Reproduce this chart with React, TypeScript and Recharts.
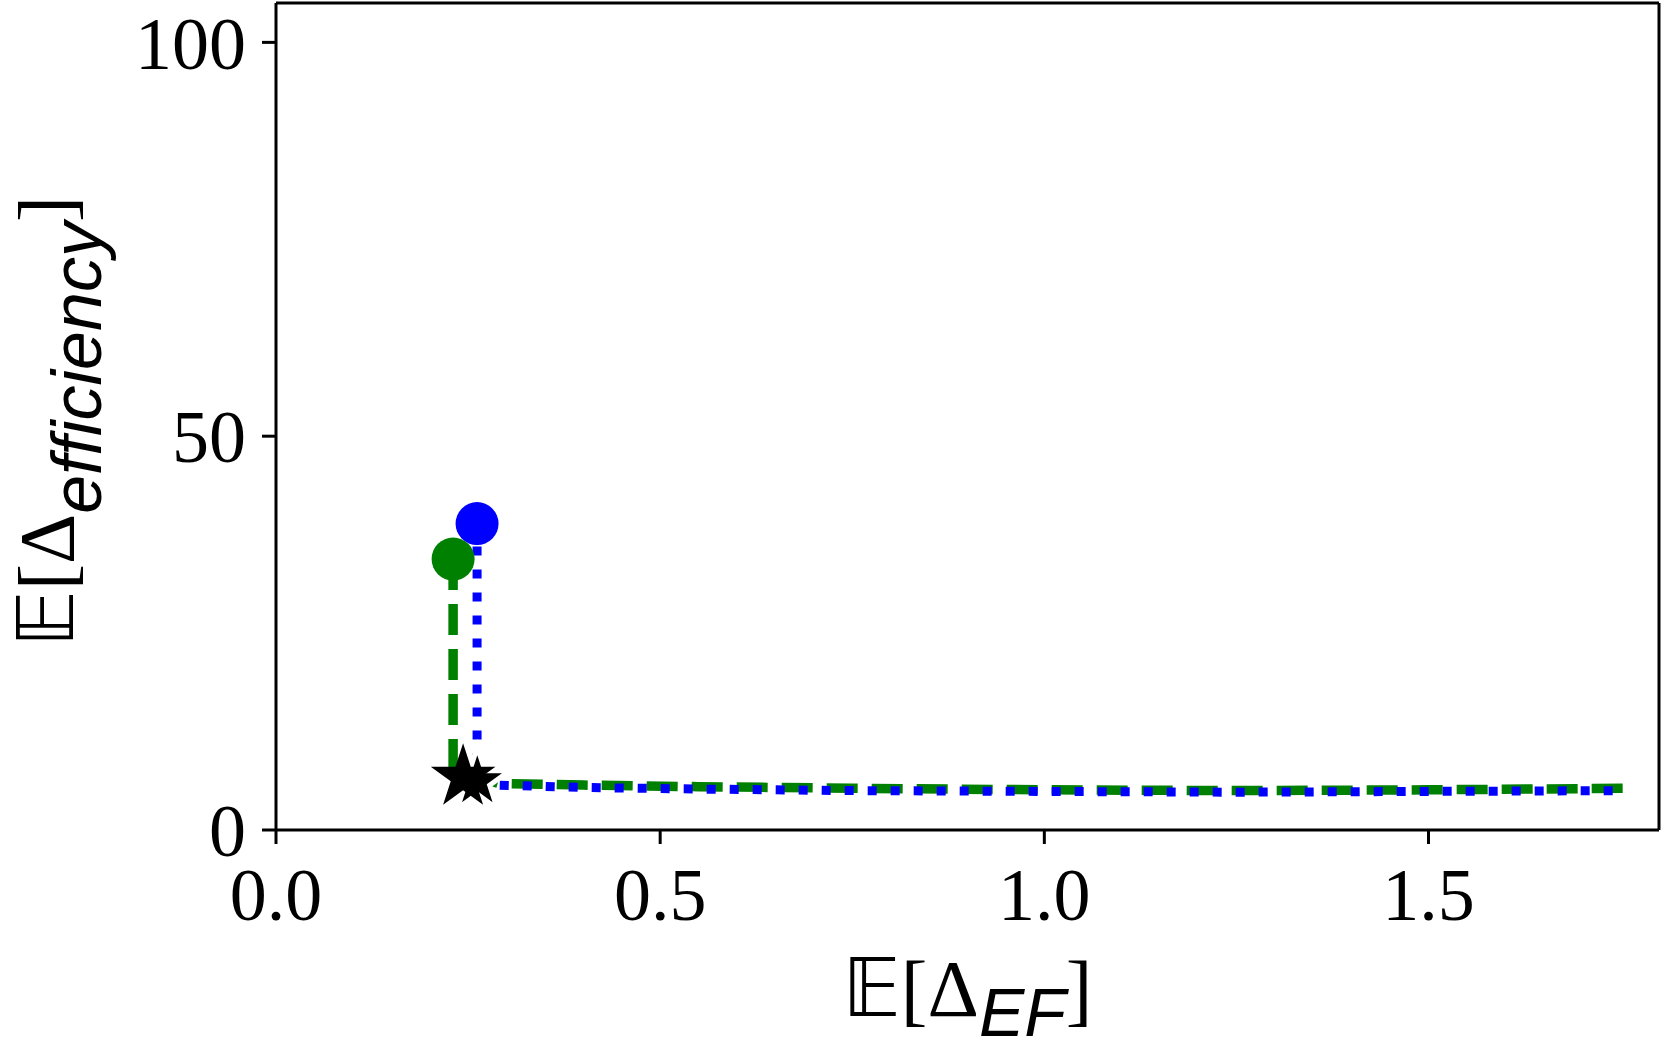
import React from 'react';
import { ComposedChart, Line, Scatter, XAxis, YAxis, ReferenceLine } from 'recharts';

// front traced for the green (dashed) and blue (dotted) runs
const greenX = [0.2305, 0.2305, 0.2305, 0.266, 0.29, 0.4, 0.55, 0.75, 1.0, 1.25, 1.5, 1.77];
const greenY = [34.4, 20, 7.9, 6.6, 5.9, 5.7, 5.5, 5.3, 5.1, 5.0, 5.1, 5.3];
const blueX = [0.2617, 0.2617, 0.2617, 0.268, 0.29, 0.4, 0.55, 0.75, 1.0, 1.25, 1.5, 1.753];
const blueY = [38.9, 20, 8.2, 6.3, 5.7, 5.4, 5.2, 5.0, 4.9, 4.8, 4.9, 5.0];

const starFront = [{ x: 0.2435, y: 6.7 }];
const starBack = [{ x: 0.262, y: 6.2 }];

const xTicks = [0, 0.5, 1.0, 1.5];
const yTicks = [0, 50, 100];
const xMax = 1.8;
const yMax = 105;

const zip = (xs: number[], ys: number[]) => xs.map((x, i) => ({ x, y: ys[i] }));
const greenData = zip(greenX, greenY);
const blueData = zip(blueX, blueY);

const SERIF = '"Liberation Serif", "DejaVu Serif", serif';
const SANS = '"Liberation Sans", "DejaVu Sans", sans-serif';

const starShape = (fill: string, stroke: string, sw: number) => (props: any) => {
  const { cx, cy } = props;
  const R = 34;
  const r = R * 0.382;
  const pts: string[] = [];
  for (let i = 0; i < 10; i++) {
    const a = -Math.PI / 2 + (i * Math.PI) / 5;
    const rad = i % 2 === 0 ? R : r;
    pts.push(`${cx + rad * Math.cos(a)},${cy + rad * Math.sin(a)}`);
  }
  return <polygon points={pts.join(' ')} fill={fill} stroke={stroke} strokeWidth={sw} strokeLinejoin="miter" />;
};

const dotShape = (fill: string) => (props: any) => (
  <circle cx={props.cx} cy={props.cy} r={21.5} fill={fill} />
);

const XTitle = (props: any) => {
  const { x, y, width } = props.viewBox;
  return (
    <text x={x + width / 2} y={y + 186} textAnchor="middle" fill="#000" fontSize={80} fontFamily={SERIF}>
      <tspan fontFamily='"DejaVu Sans", serif'>𝔼</tspan>
      <tspan>[Δ</tspan>
      <tspan fontFamily={SANS} fontStyle="italic" fontSize={68} dy={20}>EF</tspan>
      <tspan dy={-20}>]</tspan>
    </text>
  );
};

const YTitle = (props: any) => {
  const { y, height } = props.viewBox;
  const cx = 73;
  const cy = y + height / 2 + 5;
  return (
    <text x={cx} y={cy} transform={`rotate(-90 ${cx} ${cy})`} textAnchor="middle" fill="#000" fontSize={78} fontFamily={SERIF}>
      <tspan fontFamily='"DejaVu Sans", serif'>𝔼</tspan>
      <tspan>[Δ</tspan>
      <tspan fontFamily={SANS} fontStyle="italic" fontSize={70} dy={28}>efficiency</tspan>
      <tspan dy={-28}>]</tspan>
    </text>
  );
};

const axisLine = { stroke: '#000', strokeWidth: 3 };
const tickLine = { stroke: '#000', strokeWidth: 3 };
const tickFont = { fontSize: 74, fontFamily: SERIF, fill: '#000' };

export default function App() {
  return (
    <div style={{ position: 'absolute', left: 0, top: 0, background: '#fff' }}>
      <ComposedChart width={1662} height={1049} margin={{ top: 3, right: 3, left: 0, bottom: 0 }}>
        <XAxis
          type="number"
          dataKey="x"
          domain={[0, xMax]}
          ticks={xTicks}
          tickFormatter={(v: number) => v.toFixed(1)}
          height={219}
          tickSize={14}
          tickMargin={23}
          axisLine={axisLine}
          tickLine={tickLine}
          tick={tickFont}
          allowDataOverflow
          label={{ content: (p: any) => <XTitle {...p} /> }}
        />
        <YAxis
          type="number"
          dataKey="y"
          domain={[0, yMax]}
          ticks={yTicks}
          width={276}
          tickSize={14}
          tickMargin={16}
          axisLine={axisLine}
          tickLine={tickLine}
          tick={tickFont}
          allowDataOverflow
          label={{ content: (p: any) => <YTitle {...p} /> }}
        />
        <ReferenceLine y={yMax} stroke="#000" strokeWidth={3} />
        <ReferenceLine x={xMax} stroke="#000" strokeWidth={3} />

        <Scatter data={starBack} shape={starShape('#000', '#fff', 5)} isAnimationActive={false} />
        <Scatter data={starFront} shape={starShape('#000', '#000', 0)} isAnimationActive={false} />

        <Line data={greenData} dataKey="y" type="linear" stroke="#008000" strokeWidth={9.5} strokeDasharray="31 14" dot={false} isAnimationActive={false} />
        <Line data={blueData} dataKey="y" type="linear" stroke="#0000ff" strokeWidth={9} strokeDasharray="9 14" dot={false} isAnimationActive={false} />

        <Scatter data={[greenData[0]]} shape={dotShape('#008000')} isAnimationActive={false} />
        <Scatter data={[blueData[0]]} shape={dotShape('#0000ff')} isAnimationActive={false} />
      </ComposedChart>
    </div>
  );
}
